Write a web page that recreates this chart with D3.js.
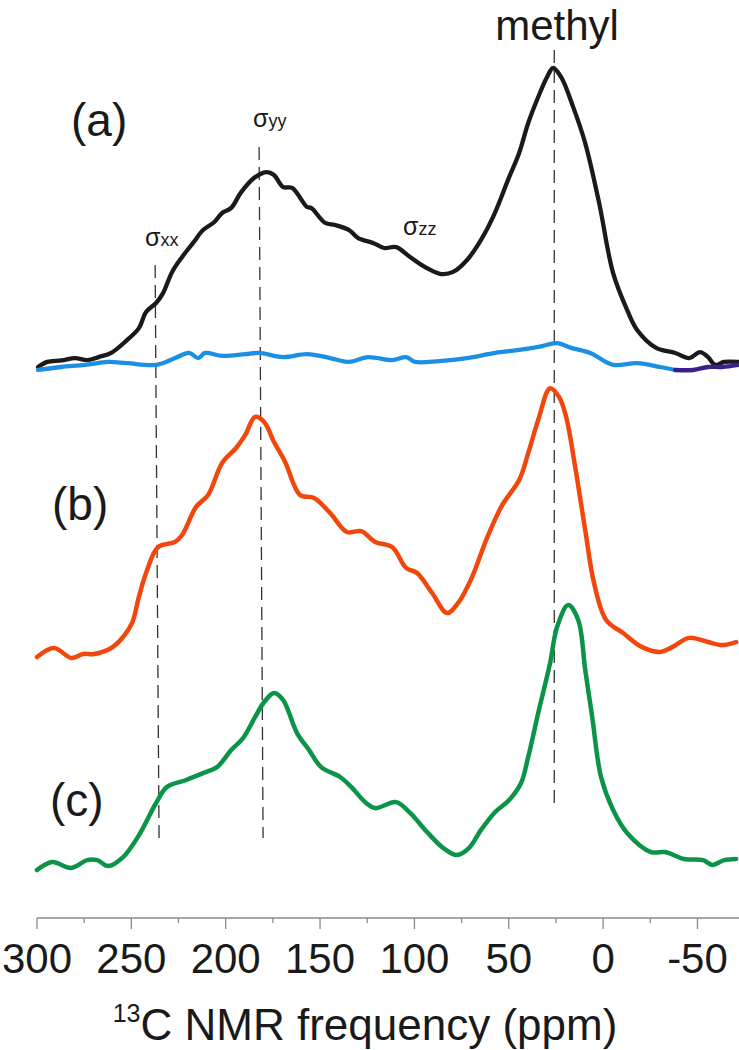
<!DOCTYPE html>
<html>
<head>
<meta charset="utf-8">
<script src="https://cdn.jsdelivr.net/npm/d3@7"></script>
<style>
  body { margin: 0; background: #fff; }
  svg text { font-family: "Liberation Sans", Arial, sans-serif; fill: #1a1a1a; }
</style>
</head>
<body>
<div id="chart"></div>
<script>
// spectra: [ppm, intensity], methyl peak of (a) = 100
const traceA = [
  [299.4, 0], [294.6, 1.7], [287, 2.2], [279.8, 3], [273.4, 2.3], [267, 3.4], [260.7, 4.7],
  [252.3, 9], [246, 13], [242.2, 18.4], [236.9, 21.4], [233.2, 24.7], [228.4, 31.8],
  [223.1, 36.8], [217.3, 41.5], [212, 45.8], [206, 48.5], [201.9, 51.5], [197.1, 53.2],
  [191.8, 58.5], [184.4, 63.5], [178.1, 65.2], [174.4, 64.2], [169.6, 60.2], [164.8, 59.9],
  [156.9, 53.5], [154.7, 53.2], [147.3, 48.2], [142, 47.5], [134.6, 45.8], [129.8, 43.1],
  [121.9, 41.5], [116.1, 39.8], [109.7, 40.1], [102.3, 36.8], [94.3, 33.4], [85.9, 31.1],
  [79.5, 31.8], [72.1, 35.8], [64.7, 42.5], [58.3, 50.2], [49.8, 63.5], [44.5, 71.6],
  [39.7, 81.6], [34.4, 90.3], [29.7, 97], [26.5, 100], [22.3, 97], [15.9, 87], [9.5, 74.9],
  [2.1, 54.8], [-5.3, 31.4], [-12.7, 19.1], [-18, 12.4], [-28.1, 6.4], [-38.2, 4.7],
  [-45.6, 3], [-51.4, 5], [-55.6, 3.3], [-59.4, 0.7], [-64.1, 1.7], [-71.5, 1.7]
];
const traceBlank = [
  [299.4, -1], [287.2, 0], [274.5, 0.7], [262.3, 1.7], [252.3, 1.3], [236.9, 0.7],
  [226.8, 3], [219.4, 4.7], [214.6, 3], [210.9, 4.7], [201.9, 3.7], [189.7, 4.3],
  [182.3, 4.7], [169.6, 3.3], [156.9, 4.3], [144.7, 3], [134.6, 1.7], [124.5, 3.3],
  [111.8, 2.3], [104.4, 3.3], [99.6, 1.7], [86.9, 2], [72.1, 3], [57.2, 4.7], [44.5, 5.7],
  [34.4, 6.7], [24.4, 8], [17, 6.4], [6.9, 4.7], [-5.3, 0.7], [-18, 1.3], [-30.2, 0],
  [-38.2, -1]
];
const traceBlankTail = [
  [-38.2, -1], [-47.7, -1], [-55.6, 0], [-63.1, 0], [-71.5, 0.7]
];
const traceB = [
  [300, 0], [290.9, 3], [281.9, -0.3], [275.6, 1], [269.7, 1], [260.7, 3], [254.4, 6.7],
  [249.6, 11.4], [246, 20.1], [242.2, 28.1], [235.8, 36.8], [226.8, 38.5], [223.1, 40.8],
  [215.7, 50.2], [209.3, 54.2], [201.9, 64.9], [194.5, 69.9], [189.7, 74.2], [184.4, 80.3],
  [179.6, 78.6], [174.4, 71.9], [168.5, 65.2], [160.6, 54.2], [153.2, 53.2], [144.7, 48.2],
  [135.7, 41.8], [128.2, 42.1], [120.8, 38.5], [111.8, 36.8], [104.4, 29.8], [98.6, 28.1],
  [90.6, 21.4], [82.7, 14.7], [76.8, 18.1], [69.4, 26.8], [62, 39.1], [53.5, 50.8],
  [44.5, 59.2], [39.7, 68.2], [34.4, 79.3], [28.1, 89.9], [23.3, 86.9], [19.6, 80.3],
  [14.8, 63.5], [9.5, 42.5], [4.8, 24.7], [-1.6, 12.4], [-10.6, 8], [-20.7, 3.3],
  [-30.2, 1.7], [-36.6, 3.3], [-45.6, 6.4], [-55.6, 5], [-63.1, 4], [-70.5, 5]
];
const traceC = [
  [300, 0], [292, 2.7], [281.9, 0.7], [273.4, 3.3], [268.1, 3.3], [262.3, 1.3], [254.4, 4.3],
  [245.9, 11.7], [236.9, 22.4], [231.1, 27.8], [221, 30.1], [212, 32.4], [204.6, 34.4],
  [197.1, 40.1], [190.8, 44.1], [184.4, 51.2], [179.6, 56.2], [174.4, 59.2], [169.6, 56.9],
  [162.2, 45.8], [155.8, 40.1], [149.4, 34.4], [139.4, 31.1], [133.5, 27.8], [125.6, 22.4],
  [120.8, 20.7], [109.7, 22.7], [102.3, 19.1], [93.3, 12.7], [84.8, 7.4], [77.4, 5],
  [71, 7.4], [64.7, 13.4], [57.2, 19.4], [49.8, 23.4], [43.5, 29.1], [39.7, 37.8],
  [34.4, 52.5], [28.1, 69.2], [24.4, 81.3], [18.5, 88.6], [13.2, 83.6], [9.5, 67],
  [5.8, 51.2], [1.1, 31.1], [-5.3, 20.1], [-12.7, 12.4], [-25.4, 6], [-32.9, 6],
  [-42.9, 3.7], [-53, 3.3], [-57.8, 1.7], [-64.1, 3.3], [-70.5, 3.7]
];

const xTicks = [300, 250, 200, 150, 100, 50, 0, -50];
const xMinorTicks = [275, 225, 175, 125, 75, 25, -25, -75];
const axisLabel = ["13", "C NMR frequency (ppm)"];
const panelLabels = ["(a)", "(b)", "(c)"];

// dashed guides: [label, ppm at top, ppm at bottom]
const guides = [
  ["σxx", 237.4, 235.3],
  ["σyy", 182.3, 180.2],
  ["methyl", 25.9, 25.9]
];

const width = 739, height = 1050;
const svg = d3.select("#chart").append("svg")
  .attr("width", width).attr("height", height);

const x = d3.scaleLinear().domain([300, -72]).range([37, 739]);
const yA = d3.scaleLinear().domain([0, 100]).range([367, 68]);
const yB = d3.scaleLinear().domain([0, 100]).range([657, 358]);
const yC = d3.scaleLinear().domain([0, 100]).range([870, 571]);

// guide lines first, spectra on top
const guideSpan = [[265, 843], [147, 838], [50, 803]];
guides.forEach(function(g, i) {
  svg.append("line")
    .attr("x1", x(g[1])).attr("x2", x(g[2]))
    .attr("y1", guideSpan[i][0]).attr("y2", guideSpan[i][1])
    .attr("stroke", "#333").attr("stroke-width", 1.3)
    .attr("stroke-dasharray", "13,7");
});

function trace(data, y, color, w) {
  const line = d3.line()
    .x(function(d) { return x(d[0]); })
    .y(function(d) { return y(d[1]); })
    .curve(d3.curveCatmullRom.alpha(0.5));
  svg.append("path")
    .datum(data)
    .attr("d", line)
    .attr("fill", "none")
    .attr("stroke", color)
    .attr("stroke-width", w)
    .attr("stroke-linejoin", "round")
    .attr("stroke-linecap", "round");
}

trace(traceA, yA, "#1a1a1a", 4.3);
trace(traceBlank, yA, "#1b8fe3", 4.3);
trace(traceBlankTail, yA, "#3b1f8c", 4.3);
trace(traceB, yB, "#f2470c", 4.5);
trace(traceC, yC, "#0b9347", 4.5);

// x axis, ticks hang below the line
const axisY = 918;
svg.append("line")
  .attr("x1", x(300)).attr("x2", 739)
  .attr("y1", axisY).attr("y2", axisY)
  .attr("stroke", "#8a8a8a").attr("stroke-width", 1.5);

svg.selectAll(".major").data(xTicks).enter().append("line")
  .attr("x1", function(d) { return x(d); }).attr("x2", function(d) { return x(d); })
  .attr("y1", axisY).attr("y2", axisY + 11)
  .attr("stroke", "#8a8a8a").attr("stroke-width", 1.3);

svg.selectAll(".minor").data(xMinorTicks.filter(function(d) { return x(d) <= 739; }))
  .enter().append("line")
  .attr("x1", function(d) { return x(d); }).attr("x2", function(d) { return x(d); })
  .attr("y1", axisY).attr("y2", axisY + 5)
  .attr("stroke", "#8a8a8a").attr("stroke-width", 1.3);

svg.selectAll(".ticklabel").data(xTicks).enter().append("text")
  .attr("x", function(d) { return x(d); })
  .attr("y", 973)
  .attr("text-anchor", "middle")
  .attr("font-size", 42)
  .text(function(d) { return d; });

const title = svg.append("text")
  .attr("x", 365).attr("y", 1040)
  .attr("text-anchor", "middle")
  .attr("font-size", 44);
title.append("tspan").attr("font-size", 25).attr("dy", -18).text(axisLabel[0]);
title.append("tspan").attr("dy", 18).text(axisLabel[1]);

// panel letters
const panelPos = [[71, 136], [52, 520], [50, 816]];
panelLabels.forEach(function(t, i) {
  svg.append("text")
    .attr("x", panelPos[i][0]).attr("y", panelPos[i][1])
    .attr("font-size", 46)
    .text(t);
});

svg.append("text")
  .attr("x", 557).attr("y", 40)
  .attr("text-anchor", "middle")
  .attr("font-size", 42)
  .text("methyl");

// tensor component labels
const sigmaLabels = [["xx", 145, 246], ["yy", 253, 127], ["zz", 403, 235]];
sigmaLabels.forEach(function(s) {
  const t = svg.append("text").attr("x", s[1]).attr("y", s[2]);
  t.append("tspan").attr("font-size", 25).text("σ");
  t.append("tspan").attr("font-size", 18).text(s[0]);
});
</script>
</body>
</html>
